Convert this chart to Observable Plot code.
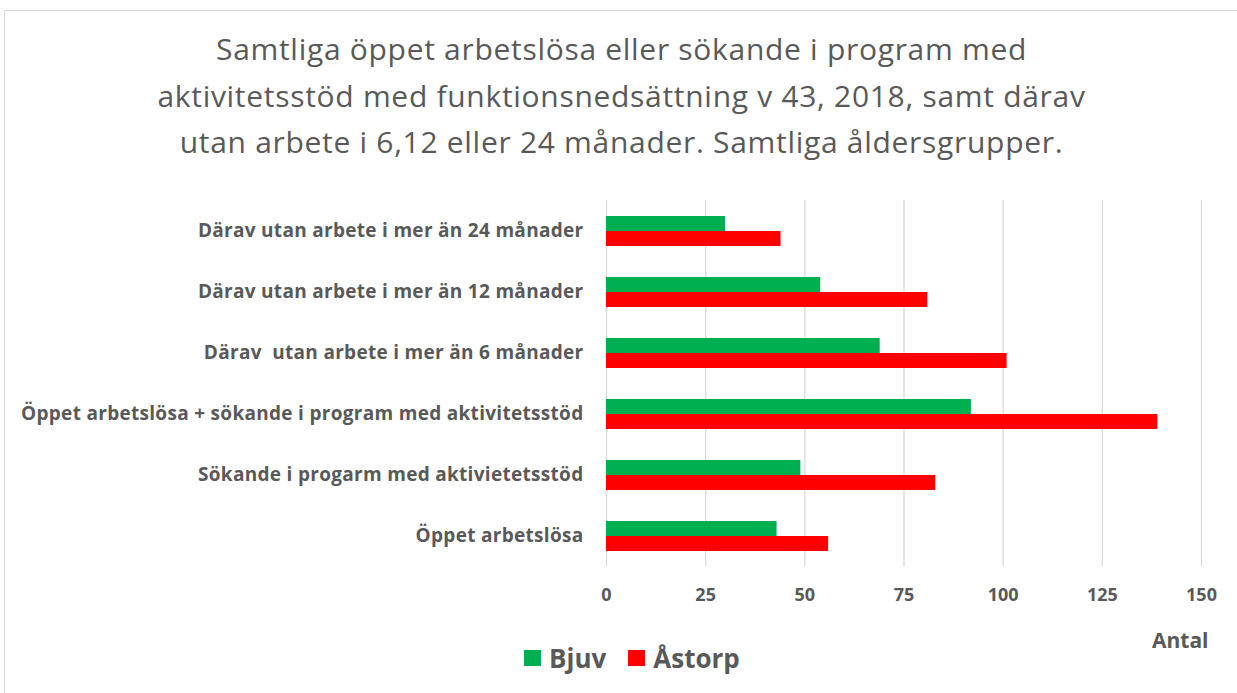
<!DOCTYPE html>
<html>
<head>
<meta charset="utf-8">
<script src="https://cdn.jsdelivr.net/npm/d3@7"></script>
<script src="https://cdn.jsdelivr.net/npm/@observablehq/plot@0.6"></script>
<style>
  html, body { margin: 0; padding: 0; background: #fff; overflow: hidden; }
  #frame { position: absolute; left: 4px; top: 10px; width: 1240px; height: 700px; border: 1px solid #d9d9d9; box-sizing: border-box; }
  #title { position: absolute; left: 0; top: 26px; width: 1243px; text-align: center; font-family: "Open Sans", sans-serif; font-size: 30px; letter-spacing: 0.7px; line-height: 46.5px; color: #595959; }
  #chart { position: absolute; left: 0; top: 180px; }
  #chart svg g[aria-label="fy-axis tick label"] text { letter-spacing: 0.3px; }
  #legend { position: absolute; left: 524px; top: 643px; height: 30px; font-family: "Open Sans", sans-serif; font-weight: bold; font-size: 26px; color: #595959; display: flex; align-items: center; }
  #legend .sw { display: inline-block; width: 17px; height: 16px; margin-right: 8px; }
  #legend .item { display: flex; align-items: center; margin-right: 22px; }
</style>
</head>
<body>
<div id="frame"></div>
<div id="title">Samtliga öppet arbetslösa eller sökande i program med<br>aktivitetsstöd med funktionsnedsättning v 43, 2018, samt därav<br>utan arbete i 6,12 eller 24 månader. Samtliga åldersgrupper.</div>
<div id="chart"></div>
<div id="legend"></div>
<script>
const categories = [
  "Därav utan arbete i mer än 24 månader",
  "Därav utan arbete i mer än 12 månader",
  "Därav  utan arbete i mer än 6 månader",
  "Öppet arbetslösa + sökande i program med aktivitetsstöd",
  "Sökande i progarm med aktivietetsstöd",
  "Öppet arbetslösa"
];
const series = ["Bjuv", "Åstorp"];
const bjuv = [30, 54, 69, 92, 49, 43];
const astorp = [44, 81, 101, 139, 83, 56];
const xTicks = [0, 25, 50, 75, 100, 125, 150];
const xLabel = "Antal";
const colors = ["#00b050", "#ff0000"];

const rows = [];
categories.forEach((c, i) => {
  rows.push({category: c, series: "Bjuv", value: bjuv[i]});
  rows.push({category: c, series: "Åstorp", value: astorp[i]});
});

const chart = Plot.plot({
  width: 1237,
  height: 478,
  marginLeft: 606,
  marginRight: 36,
  marginTop: 17,
  marginBottom: 90,
  style: {fontFamily: "'Open Sans', sans-serif", fontSize: "18px", color: "#595959", background: "transparent", overflow: "visible"},
  x: {domain: [0, 150]},
  y: {domain: series, paddingInner: 0, paddingOuter: 0.94, axis: null},
  fy: {domain: categories, padding: 0},
  color: {domain: series, range: colors},
  marks: [
    Plot.gridX(xTicks, {stroke: "#d9d9d9", strokeOpacity: 1, strokeWidth: 1.3}),
    Plot.axisX(xTicks, {tickSize: 0, tickPadding: 22, fontWeight: "bold", fontSize: 18, label: null}),
    Plot.axisFy({anchor: "left", tickSize: 0, tickPadding: 23, label: null, fontWeight: "bold", fontSize: 19}),
    Plot.barX(rows, {x: "value", y: "series", fy: "category", fill: "series"}),
    Plot.text([xLabel], {text: d => d, fy: () => categories[categories.length - 1], frameAnchor: "bottom-right", textAnchor: "end", lineAnchor: "middle", dx: 7, dy: 75, fontWeight: "bold", fontSize: 21, fill: "#595959"})
  ]
});
document.getElementById("chart").appendChild(chart);

const legend = document.getElementById("legend");
series.forEach((s, i) => {
  const item = document.createElement("div");
  item.className = "item";
  const sw = document.createElement("span");
  sw.className = "sw";
  sw.style.background = colors[i];
  item.appendChild(sw);
  item.appendChild(document.createTextNode(s));
  legend.appendChild(item);
});
</script>
</body>
</html>
